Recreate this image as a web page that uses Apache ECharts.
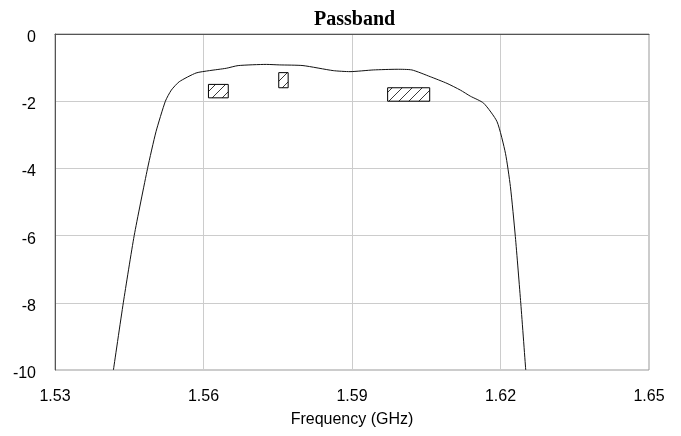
<!DOCTYPE html>
<html>
<head>
<meta charset="utf-8">
<script src="https://cdn.jsdelivr.net/npm/echarts@6/dist/echarts.min.js"></script>
<style>
  html, body { margin: 0; padding: 0; background: #fff; }
  #chart { width: 681px; height: 436px; }
</style>
</head>
<body>
<div id="chart"></div>
<script>
// passband response
var freqGHz = [1.5418, 1.5438, 1.5460, 1.5487, 1.5504, 1.5523, 1.5535, 1.5551, 1.5585, 1.5612,
  1.5646, 1.5670, 1.5727, 1.5754, 1.5801, 1.5862, 1.5896, 1.5943, 1.5991, 1.6021,
  1.6058, 1.6092, 1.6119, 1.6139, 1.6166, 1.6193, 1.6210, 1.6220, 1.6230, 1.6241, 1.6251];
var lossDb = [-10, -8, -6, -4, -2.91, -2.0, -1.67, -1.42, -1.16, -1.09,
  -1.02, -0.94, -0.905, -0.92, -0.94, -1.09, -1.12, -1.07, -1.05, -1.07,
  -1.27, -1.47, -1.67, -1.85, -2.06, -2.61, -3.55, -4.54, -6.03, -8.02, -10];

// hatched spec boxes: [fStart, fEnd, top dB, bottom dB]
var boxFreqStart = [1.5610, 1.5752, 1.5972];
var boxFreqEnd = [1.5650, 1.5771, 1.6057];
var boxTop = [-1.5, -1.15, -1.6];
var boxBottom = [-1.9, -1.6, -2.0];

var xTicks = ['1.53', '1.56', '1.59', '1.62', '1.65'];

// diagonal hatch pattern
var hatch = document.createElement('canvas');
hatch.width = 10;
hatch.height = 10;
var hc = hatch.getContext('2d');
hc.strokeStyle = '#222';
hc.lineWidth = 0.9;
hc.beginPath();
hc.moveTo(-1, 11);
hc.lineTo(11, -1);
hc.stroke();

var curve = freqGHz.map(function (f, i) { return [f, lossDb[i]]; });
var boxes = boxFreqStart.map(function (f, i) {
  return [{ coord: [f, boxTop[i]] }, { coord: [boxFreqEnd[i], boxBottom[i]] }];
});

var chart = echarts.init(document.getElementById('chart'));
chart.setOption({
  animation: false,
  title: {
    text: 'Passband',
    left: 309,
    top: 5,
    textStyle: { fontFamily: 'Liberation Serif', fontWeight: 'bold', fontSize: 20, color: '#000' }
  },
  grid: {
    left: 55, right: 32, top: 34, bottom: 66,
    show: true, borderColor: '#999', borderWidth: 1
  },
  xAxis: {
    type: 'value',
    min: 1.53, max: 1.65, interval: 0.03,
    name: 'Frequency (GHz)',
    nameLocation: 'middle',
    nameGap: 42,
    nameTextStyle: { fontFamily: 'Liberation Sans', fontSize: 16, color: '#000' },
    axisLine: { lineStyle: { color: '#555' } },
    axisTick: { show: false },
    axisLabel: {
      margin: 19,
      fontFamily: 'Liberation Sans', fontSize: 16, color: '#000',
      formatter: function (v) {
        var s = v.toFixed(2);
        return xTicks.indexOf(s) >= 0 ? s : '';
      }
    },
    splitLine: { lineStyle: { color: '#ccc' } }
  },
  yAxis: {
    type: 'value',
    min: -10, max: 0, interval: 2,
    axisLine: { show: true, lineStyle: { color: '#555' } },
    axisTick: { show: false },
    axisLabel: {
      margin: 19,
      formatter: function (v) { return '{t|' + v + '}'; },
      rich: {
        t: { padding: [7, 0, 0, 0], fontFamily: 'Liberation Sans', fontSize: 16, color: '#000' }
      }
    },
    splitLine: { lineStyle: { color: '#ccc' } }
  },
  series: [{
    type: 'line',
    data: curve,
    showSymbol: false,
    smooth: 0.2,
    clip: true,
    lineStyle: { color: '#111', width: 1 },
    markArea: {
      silent: true,
      itemStyle: {
        color: { image: hatch, repeat: 'repeat' },
        borderColor: '#000',
        borderWidth: 1
      },
      data: boxes
    }
  }]
});
</script>
</body>
</html>
